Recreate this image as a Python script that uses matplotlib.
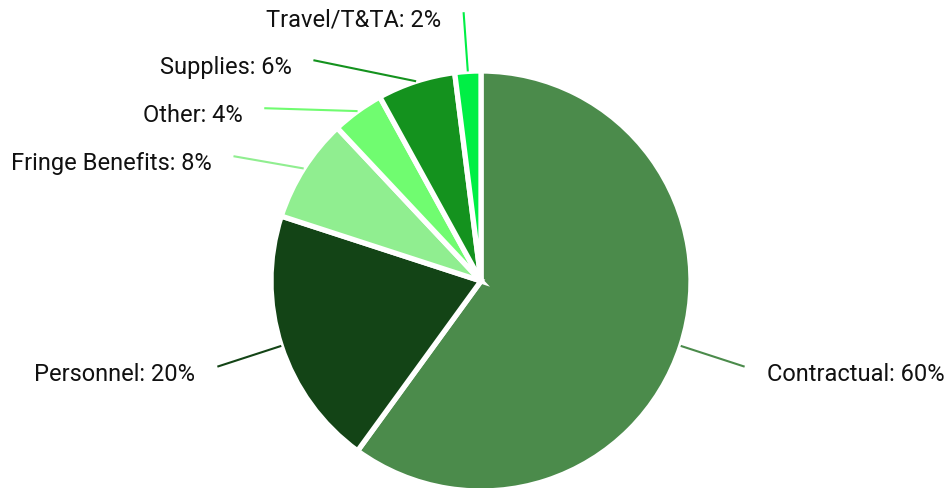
import numpy as np
import matplotlib.pyplot as plt

# budget categories, in pie order (clockwise from 12 o'clock)
categories = ["Contractual", "Personnel", "Fringe Benefits", "Other", "Supplies", "Travel/T&TA"]
shares = [60, 20, 8, 4, 6, 2]
colors = ["#4b8b4b", "#134416", "#90ee90", "#70fc70", "#14921e", "#00ef45"]

plt.rcParams['font.family'] = ['Roboto', 'DejaVu Sans']

W, H, dpi = 951, 488, 100
scale = 210.0          # pixels per data unit (pie radius = 1)
cx, cy = 481, 281      # pie centre in pixels (from top-left)

fig = plt.figure(figsize=(W / dpi, H / dpi), dpi=dpi)
ax = fig.add_axes([0, 0, 1, 1])

wedges, _ = ax.pie(shares, colors=colors, startangle=90, counterclock=False,
                   radius=1.0, wedgeprops=dict(edgecolor="white", linewidth=3.8))
ax.set_aspect('auto')
ax.set_xlim(-cx / scale, (W - cx) / scale)
ax.set_ylim(-(H - cy) / scale, cy / scale)
ax.axis('off')

# leader line end points: radial, then spread the left-hand ones apart
r_end = 1.32
gap = 48 / scale
top = 1.28
mids = [np.deg2rad((w.theta1 + w.theta2) / 2) for w in wedges]
ends = [[r_end * np.cos(a), r_end * np.sin(a)] for a in mids]

left = sorted([i for i in range(len(ends)) if ends[i][0] < 0], key=lambda i: -ends[i][1])
prev = None
for i in left:
    x, y = ends[i]
    ny = min(y, top)
    if prev is not None:
        ny = min(ny, prev - gap)
    if ny != y and prev is not None:
        x = -np.sqrt(max(r_end ** 2 - ny ** 2, 0))
    ends[i] = [x, ny]
    prev = ny

for i, (cat, val) in enumerate(zip(categories, shares)):
    a = mids[i]
    x0, y0 = 1.0 * np.cos(a), 1.0 * np.sin(a)
    x1, y1 = ends[i]
    ax.plot([x0, x1], [y0, y1], color=colors[i], lw=1.5, solid_capstyle='butt')
    right = x1 >= 0
    ax.annotate(f"{cat}: {val}%", xy=(x1, y1), xytext=(22 if right else -22, -14),
                textcoords='offset pixels', ha='left' if right else 'right',
                va='baseline', fontsize=17, color="#111111")

fig.savefig("out.png", dpi=dpi)
